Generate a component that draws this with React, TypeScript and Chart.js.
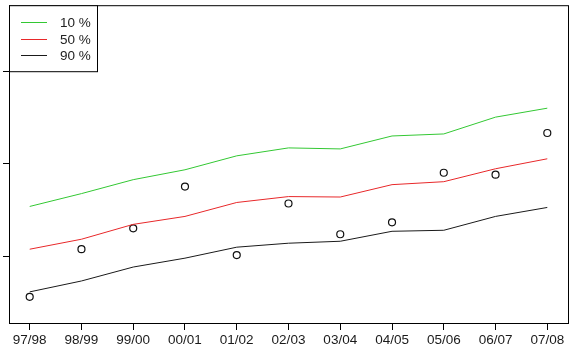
import React, { useEffect, useRef } from "react";
import { Chart, registerables } from "chart.js";

Chart.register(...registerables);

const categories = ["97/98", "98/99", "99/00", "00/01", "01/02", "02/03", "03/04", "04/05", "05/06", "06/07", "07/08"];
const seriesLabels = ["10 %", "50 %", "90 %"];
const seriesColors = ["#33c833", "#e8282a", "#1a1a1a"];
const p10 = [153.8, 167.7, 182.8, 193.5, 208.6, 217.2, 216.1, 230.1, 232.3, 250.5, 260.2];
const p50 = [107.5, 118.3, 134.4, 143.0, 158.1, 164.5, 164.0, 177.4, 180.6, 194.6, 205.4];
const p90 = [61.3, 73.1, 88.2, 97.8, 109.7, 114.0, 116.1, 126.9, 128.0, 143.0, 152.7];
const observed = [55.9, 107.5, 130.1, 175.3, 101.1, 157.0, 123.7, 136.6, 190.3, 188.2, 233.3];
const yTicks = [100, 200, 300];
const yMin = 27.6;
const yMax = 371.7;

const FONT = "'Liberation Sans', Arial, Helvetica, sans-serif";

const framePlugin = {
  id: "frame",
  afterDraw(chart: any) {
    const { ctx, chartArea } = chart;
    ctx.save();
    ctx.strokeStyle = "#000";
    ctx.lineWidth = 1;
    ctx.strokeRect(chartArea.left + 0.5, chartArea.top + 0.5, chartArea.right - chartArea.left, chartArea.bottom - chartArea.top);
    // legend box (top-left, like R's legend("topleft"))
    const bx = chartArea.left + 0.5;
    const by = chartArea.top + 0.5;
    ctx.fillStyle = "#fff";
    ctx.fillRect(bx, by, 88, 66);
    ctx.strokeRect(bx, by, 88, 66);
    ctx.font = `13.5px ${FONT}`;
    ctx.textBaseline = "middle";
    ctx.textAlign = "left";
    const ds = chart.data.datasets.filter((d: any) => d.showLine !== false);
    ds.forEach((d: any, i: number) => {
      const y = Math.round(chartArea.top + 17 + i * 16.3) + 0.5;
      ctx.strokeStyle = d.borderColor;
      ctx.beginPath();
      ctx.moveTo(chartArea.left + 12, y);
      ctx.lineTo(chartArea.left + 38, y);
      ctx.stroke();
      ctx.fillStyle = "#222";
      ctx.fillText(d.label, chartArea.left + 51, y + 0.5);
    });
    ctx.restore();
  },
};

export default function App() {
  const ref = useRef<HTMLCanvasElement | null>(null);

  useEffect(() => {
    document.body.style.margin = "0";
    const canvas = ref.current;
    if (!canvas) return;
    const toXY = (arr: number[]) => arr.map((v, i) => ({ x: i, y: v }));
    const lineSets = [p10, p50, p90].map((arr, k) => ({
      type: "line" as const,
      label: seriesLabels[k],
      data: toXY(arr),
      borderColor: seriesColors[k],
      borderWidth: 1,
      pointRadius: 0,
      tension: 0,
      fill: false,
    }));
    const chart = new Chart(canvas, {
      type: "line",
      data: {
        datasets: [
          ...lineSets,
          {
            type: "line" as const,
            label: "observed",
            data: toXY(observed),
            showLine: false,
            borderColor: "#111",
            backgroundColor: "rgba(0,0,0,0)",
            pointRadius: 3.5,
            pointBorderWidth: 1.2,
            pointStyle: "circle",
          } as any,
        ],
      },
      options: {
        animation: false,
        responsive: false,
        maintainAspectRatio: false,
        layout: { padding: { top: 3, right: 6, left: 0, bottom: 0 } },
        plugins: { legend: { display: false }, tooltip: { enabled: false }, title: { display: false } },
        scales: {
          x: {
            type: "linear",
            position: "bottom",
            min: -0.4,
            max: 10.4,
            afterBuildTicks: (s: any) => {
              s.ticks = categories.map((_, i) => ({ value: i }));
            },
            afterFit: (s: any) => {
              s.height = 36;
            },
            ticks: {
              callback: (_v: any, i: number) => categories[i],
              font: { family: FONT, size: 13.5 },
              color: "#1a1a1a",
              padding: 2,
              maxRotation: 0,
              autoSkip: false,
            },
            grid: { drawOnChartArea: false, drawTicks: true, tickLength: 7, color: "#000", lineWidth: 1 },
            border: { display: true, color: "#000", width: 1 },
          },
          y: {
            type: "linear",
            position: "left",
            min: yMin,
            max: yMax,
            afterBuildTicks: (s: any) => {
              s.ticks = yTicks.map((v) => ({ value: v }));
            },
            afterFit: (s: any) => {
              s.width = 9;
            },
            ticks: { display: false },
            grid: { drawOnChartArea: false, drawTicks: true, tickLength: 6, color: "#000", lineWidth: 1 },
            border: { display: true, color: "#000", width: 1 },
          },
        },
      },
      plugins: [framePlugin],
    } as any);
    return () => chart.destroy();
  }, []);

  return (
    <div style={{ width: 574, height: 359, background: "#fff" }}>
      <canvas ref={ref} width={574} height={359} style={{ display: "block", width: 574, height: 359 }} />
    </div>
  );
}
